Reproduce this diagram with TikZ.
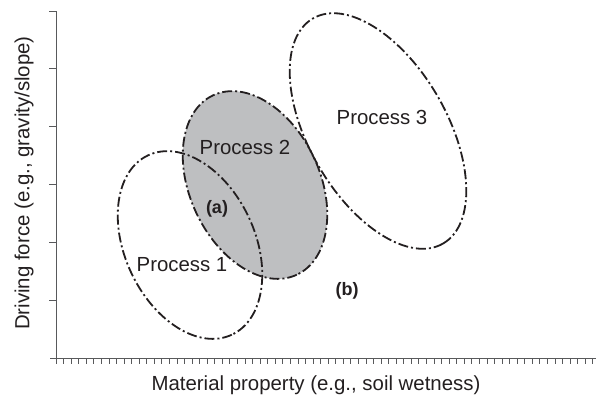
\documentclass[tikz,border=0pt]{standalone}
\usepackage{fontspec}
\setmainfont{Liberation Sans}
\usetikzlibrary{positioning}
\definecolor{ptwogray}{HTML}{BEBFC1}
\definecolor{ink}{HTML}{231F20}
\definecolor{axisgray}{HTML}{58595B}

\begin{document}
\begin{tikzpicture}[x=1pt, y=1pt, yscale=-1,
  procline/.style={line width=1.8pt, ink, dash pattern=on 10pt off 3pt on 2pt off 3pt},
  proclbl/.style={ink, font=\fontsize{20.4}{24}\selectfont},
  caselbl/.style={ink, font=\fontsize{18}{21}\selectfont\bfseries}]
\useasboundingbox (0,0) rectangle (596,399);
% axes with major ticks (left) and minor ticks (below)
\draw[axisgray, line width=1pt] (56,11) -- (56,358);
\draw[axisgray, line width=1pt] (50,358) -- (596,358);
\foreach \k in {0,...,5}
  \draw[axisgray, line width=1pt] (49,11+57.83*\k) -- (56,11+57.83*\k);
\foreach \k in {0,...,71}
  \draw[axisgray, line width=0.8pt] (56+7.56*\k,358) -- (56+7.56*\k,364);
% process 2 is shaded, outlines go on top
\fill[ptwogray, rotate around={65:(255,185)}] (255,185) ellipse [x radius=99, y radius=65];
\draw[procline, rotate around={65:(190,245)}] (190,245) ellipse [x radius=99, y radius=65];
\draw[procline, rotate around={65:(255,185)}] (255,185) ellipse [x radius=99, y radius=65];
\draw[procline, rotate around={60:(378,131)}] (378,131) ellipse [x radius=130, y radius=69];
% labels
\node[proclbl] (p1) at (182,265) {Process 1};
\node[proclbl] (p2) at (245,147) {Process 2};
\node[proclbl] (p3) at (382,117) {Process 3};
\node[caselbl] (ca) at (217,209) {(a)};
\node[caselbl] (cb) at (347,291) {(b)};
\node[proclbl] (xlbl) at (316,385) {Material property (e.g., soil wetness)};
\node[proclbl, rotate=90] (ylbl) at (24,183) {Driving force (e.g., gravity/slope)};
\end{tikzpicture}
\end{document}
